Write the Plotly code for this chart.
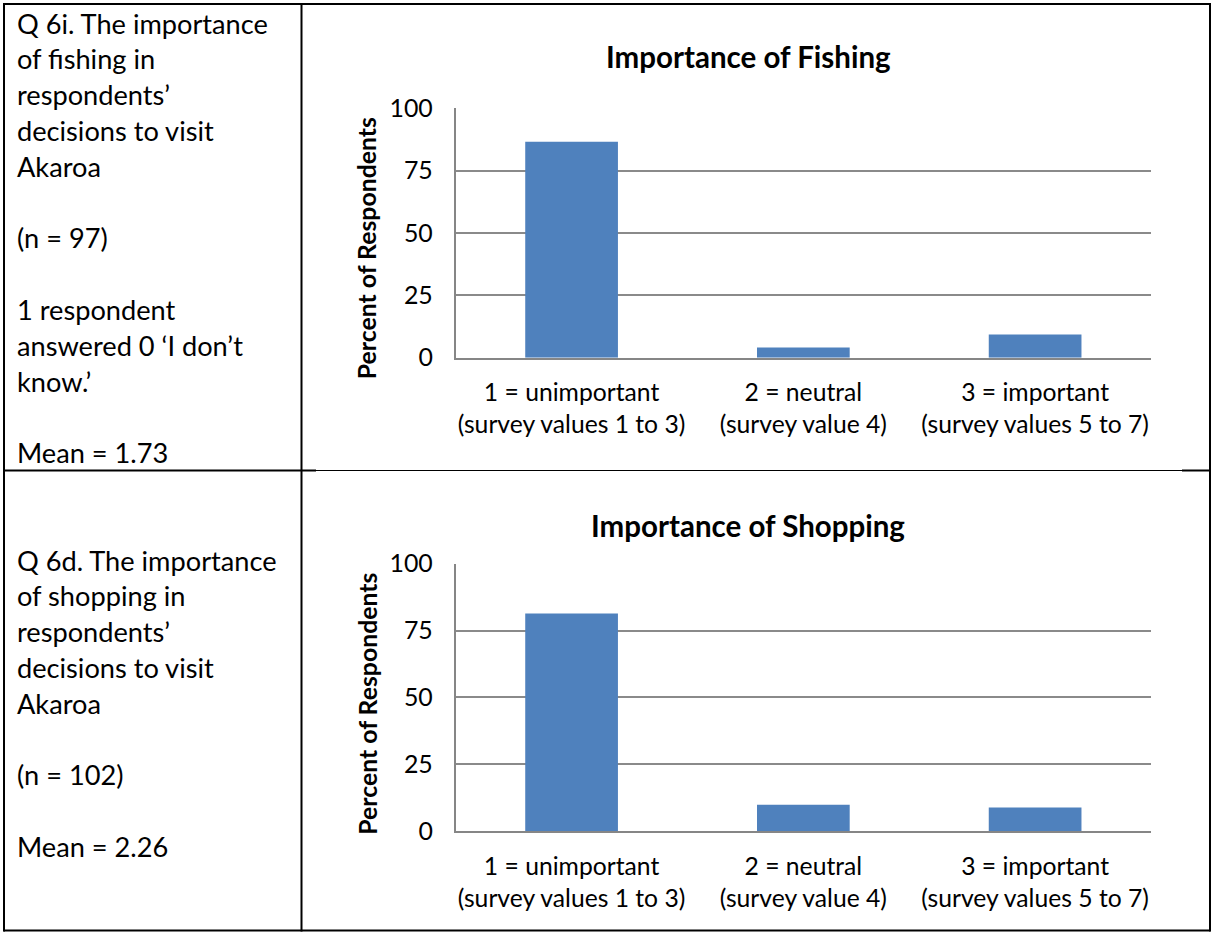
import plotly.graph_objects as go

# ---- data -------------------------------------------------------------
categories = [
    "1 = unimportant<br>(survey values 1 to 3)",
    "2 = neutral<br>(survey value 4)",
    "3 = important<br>(survey values 5 to 7)",
]
fishing_pct = [86.6, 4.1, 9.3]
shopping_pct = [81.4, 9.8, 8.8]
y_ticks = [0, 25, 50, 75, 100]

fishing_title = "Importance of Fishing"
shopping_title = "Importance of Shopping"
y_label = "Percent of Respondents"

fishing_notes = [
    "Q 6i. The importance", "of fishing in", "respondents’", "decisions to visit",
    "Akaroa", "", "(n = 97)", "", "1 respondent", "answered 0 ‘I don’t",
    "know.’", "", "Mean = 1.73",
]
shopping_notes = [
    "Q 6d. The importance", "of shopping in", "respondents’", "decisions to visit",
    "Akaroa", "", "(n = 102)", "", "Mean = 2.26",
]

# ---- layout helpers (page is 1212 x 932 px) ----------------------------
W, H = 1212, 932
FONT = "Lato"
BAR_COLOR = "#4F81BD"
GRID = "#8a8a8a"
AXIS = "#868686"


def fx(x):
    return x / W


def fy(y):
    return 1 - y / H


fig = go.Figure()

panels = [
    dict(vals=fishing_pct, title=fishing_title, notes=fishing_notes,
         top=108.3, bottom=357.7, title_y=57, label_y=248.5, note_y0=23,
         xa="x", ya="y"),
    dict(vals=shopping_pct, title=shopping_title, notes=shopping_notes,
         top=563.7, bottom=831.0, title_y=525, label_y=704, note_y0=560,
         xa="x2", ya="y2"),
]

plot_left, plot_right = 455.7, 1151.0
line_h = 35.8

for i, p in enumerate(panels):
    fig.add_trace(go.Bar(
        x=categories, y=p["vals"], width=0.4,
        marker=dict(color=BAR_COLOR, line=dict(width=0)),
        xaxis=p["xa"], yaxis=p["ya"], showlegend=False,
        hoverinfo="y",
    ))
    sfx = "" if i == 0 else "2"
    fig.layout["xaxis" + sfx] = dict(
        domain=[fx(plot_left), fx(plot_right)],
        anchor="y" + sfx, range=[-0.5, 2.5], automargin=False,
        showline=True, linecolor=AXIS, linewidth=1.8,
        showgrid=False, ticks="", ticklabelstandoff=12,
        tickfont=dict(family=FONT, size=24.7, color="#000000"),
        fixedrange=True,
    )
    fig.layout["yaxis" + sfx] = dict(
        domain=[fy(p["bottom"]), fy(p["top"])],
        anchor="x" + sfx, range=[0, 100], tickvals=y_ticks, automargin=False,
        showline=True, linecolor=AXIS, linewidth=1.8,
        showgrid=True, gridcolor=GRID, gridwidth=1.6, zeroline=False,
        ticks="", ticklabelstandoff=16,
        tickfont=dict(family=FONT, size=24.9, color="#000000"),
        fixedrange=True,
    )
    # chart title
    fig.add_annotation(
        x=fx(748), y=fy(p["title_y"]), xref="paper", yref="paper",
        text="<b>" + p["title"] + "</b>", showarrow=False,
        xanchor="center", yanchor="middle",
        font=dict(family=FONT, size=29.5, color="#000000"),
    )
    # vertical axis title
    fig.add_annotation(
        x=fx(366.7), y=fy(p["label_y"]), xref="paper", yref="paper",
        text="<b>" + y_label + "</b>", showarrow=False, textangle=-90,
        xanchor="center", yanchor="middle",
        font=dict(family=FONT, size=24.8, color="#000000"),
    )
    # descriptive text in the left column
    for k, line in enumerate(p["notes"]):
        if not line:
            continue
        fig.add_annotation(
            x=fx(15), y=fy(p["note_y0"] + k * line_h), xref="paper", yref="paper",
            text=line, showarrow=False, xanchor="left", yanchor="middle",
            font=dict(family=FONT, size=27.2, color="#000000"),
        )

# ---- table borders ----------------------------------------------------
def hline(x0, x1, y, w):
    fig.add_shape(type="line", xref="paper", yref="paper",
                  x0=fx(x0), x1=fx(x1), y0=fy(y), y1=fy(y),
                  line=dict(color="#000000", width=w))


def vline(x, y0, y1, w):
    fig.add_shape(type="line", xref="paper", yref="paper",
                  x0=fx(x), x1=fx(x), y0=fy(y0), y1=fy(y1),
                  line=dict(color="#000000", width=w))


hline(3.5, 1210.5, 4, 2)        # top
hline(3.5, 1210.5, 930.5, 2)    # bottom
vline(4, 3, 931.5, 2)           # left
vline(1210, 3, 931.5, 2)        # right
vline(301.5, 3, 931.5, 2)       # column divider
hline(3.5, 316, 470.5, 2)       # row divider, left part
hline(316, 1182, 470.5, 1)      # row divider, middle
hline(1182, 1210.5, 470.5, 2)   # row divider, right stub

fig.update_layout(
    width=W, height=H,
    margin=dict(l=0, r=0, t=0, b=0, pad=0),
    paper_bgcolor="#ffffff", plot_bgcolor="#ffffff",
    bargap=0.6,
    font=dict(family=FONT, color="#000000"),
)

fig.write_html("out.html")
